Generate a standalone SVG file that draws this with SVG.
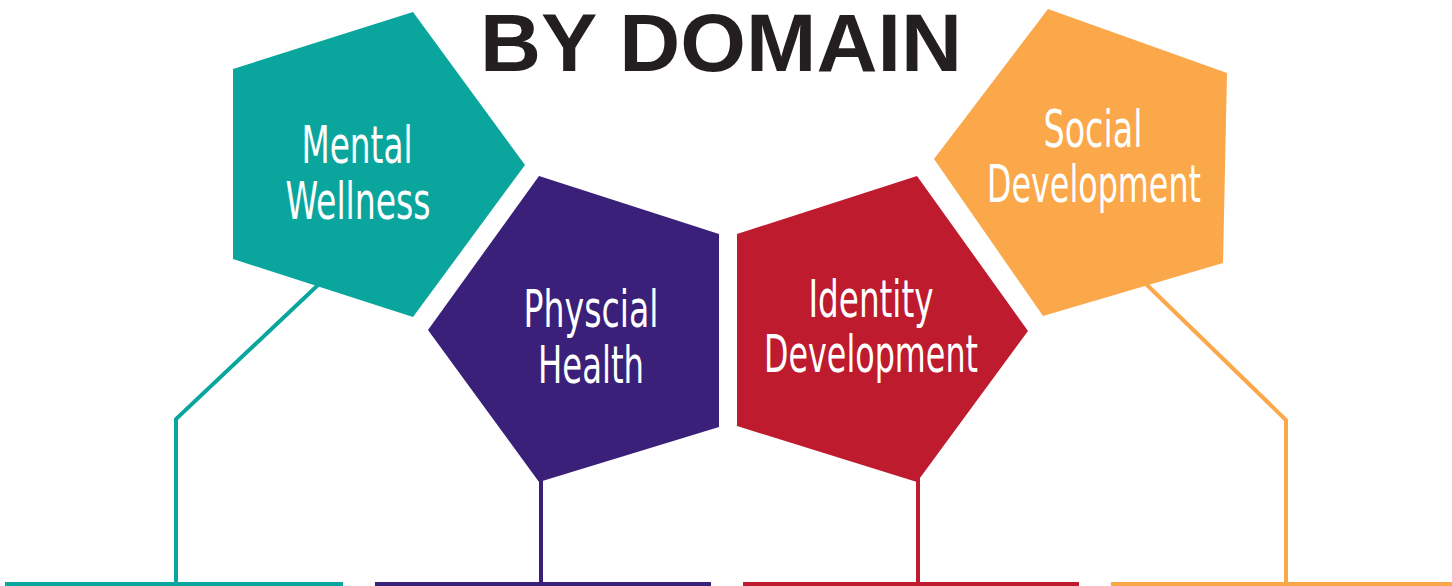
<svg xmlns="http://www.w3.org/2000/svg" width="1452" height="586" viewBox="0 0 1452 586">
  <style>
    .title { font-family: "Liberation Sans", Arial, sans-serif; font-weight: bold; font-size: 82px; fill: #231f20; }
    .label { font-family: "Liberation Sans Narrow", "DejaVu Sans Condensed", "Liberation Sans", sans-serif; font-size: 51px; fill: #ffffff; text-anchor: middle; }
    .conn { fill: none; stroke-width: 4; stroke-linejoin: miter; }
    .teal { fill: #0aa69d; }
    .purple { fill: #3a2078; }
    .red { fill: #be1b2f; }
    .orange { fill: #faa84a; }
  </style>
  <rect width="1452" height="586" fill="#ffffff"/>

  <!-- connectors: elbow leads from each pentagon down to its baseline bar -->
  <g id="connectors">
    <polyline class="conn" stroke="#0aa69d" points="318,285 176,419 176,584"/>
    <line class="conn" stroke="#0aa69d" x1="5" y1="584" x2="343" y2="584"/>
    <polyline class="conn" stroke="#3a2078" points="541,478 541,584"/>
    <line class="conn" stroke="#3a2078" x1="375" y1="584" x2="711" y2="584"/>
    <polyline class="conn" stroke="#be1b2f" points="918,478 918,584"/>
    <line class="conn" stroke="#be1b2f" x1="743" y1="584" x2="1079" y2="584"/>
    <polyline class="conn" stroke="#faa84a" points="1146,284 1286,420 1286,584"/>
    <line class="conn" stroke="#faa84a" x1="1111" y1="584" x2="1452" y2="584"/>
  </g>

  <text class="title" x="480" y="71" textLength="482" lengthAdjust="spacingAndGlyphs">BY DOMAIN</text>

  <g id="mental-wellness">
    <polygon class="teal" points="413,12 525,165 413,317 233,259 233,69"/>
    <text class="label" x="357" y="163" textLength="111" lengthAdjust="spacingAndGlyphs">Mental</text>
    <text class="label" x="358" y="219" textLength="145" lengthAdjust="spacingAndGlyphs">Wellness</text>
  </g>

  <g id="physical-health">
    <polygon class="purple" points="539,176 719,234 719,427 539,482 428,330"/>
    <text class="label" x="591" y="327" textLength="135" lengthAdjust="spacingAndGlyphs">Physcial</text>
    <text class="label" x="591" y="383" textLength="106" lengthAdjust="spacingAndGlyphs">Health</text>
  </g>

  <g id="identity-development">
    <polygon class="red" points="917,176 1028,331 917,482 737,426 737,234"/>
    <text class="label" x="871" y="317" textLength="125" lengthAdjust="spacingAndGlyphs">Identity</text>
    <text class="label" x="871" y="372" textLength="214" lengthAdjust="spacingAndGlyphs">Development</text>
  </g>

  <g id="social-development">
    <polygon class="orange" points="1048,9 1227,73 1223,263 1043,316 934,159"/>
    <text class="label" x="1093" y="147" textLength="99" lengthAdjust="spacingAndGlyphs">Social</text>
    <text class="label" x="1094" y="202" textLength="214" lengthAdjust="spacingAndGlyphs">Development</text>
  </g>
</svg>
